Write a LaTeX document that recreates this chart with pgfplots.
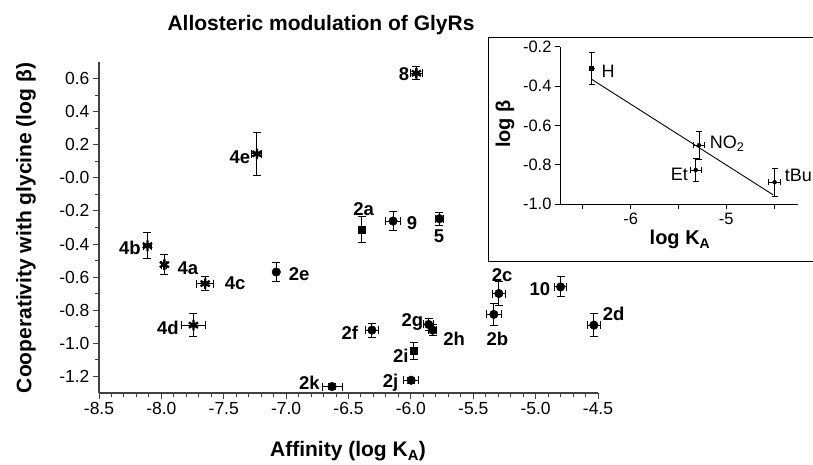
\documentclass[border=0pt]{standalone}
\usepackage{fontspec}
\setmainfont{Liberation Sans}
\usepackage{pgfplots}
\pgfplotsset{compat=1.18}
\pgfplotstableread{
x y ex ey
-6.143 -0.261 0.060 0.060
-5.771 -0.247 0.035 0.040
-7.079 -0.569 0.000 0.060
-6.312 -0.920 0.050 0.042
-5.857 -0.886 0.040 0.035
-5.825 -0.920 0.030 0.035
-5.998 -1.223 0.060 0.018
-6.632 -1.261 0.080 0.018
-5.295 -0.699 0.050 0.070
-5.335 -0.825 0.060 0.065
-4.800 -0.659 0.050 0.060
-4.533 -0.890 0.050 0.068
}\circles
\pgfplotstableread{
x y ex ey
-6.392 -0.311 0.000 0.080
-5.977 -1.046 0.020 0.050
}\squares
\pgfplotstableread{
x y ex ey
-5.956 0.632 0.050 0.040
-7.234 0.145 0.040 0.130
-8.112 -0.410 0.030 0.080
-7.976 -0.524 0.020 0.060
-7.649 -0.639 0.070 0.040
-7.743 -0.890 0.094 0.070
}\stars
\pgfplotstableread{
x y ex ey
-5.286 -0.700 0.060 0.070
-5.320 -0.826 0.060 0.060
-4.495 -0.888 0.060 0.070
}\insetpts
\pgfplotstableread{
x y ex ey
-6.410 -0.310 0.000 0.080
}\insetsq
\begin{document}
\begin{tikzpicture}[x=1pt,y=1pt]
\useasboundingbox (0,0) rectangle (813,465);
\begin{axis}[
  at={(99pt,72pt)}, anchor=south west, scale only axis,
  width=499pt, height=331pt, clip=false,
  xmin=-8.5, xmax=-4.5, ymin=-1.3, ymax=0.7,
  axis lines=left, axis line style={-, line width=1.2pt, black!75},
  xtick={-8.5,-8,-7.5,-7,-6.5,-6,-5.5,-5,-4.5},
  xticklabels={-8.5,-8.0,-7.5,-7.0,-6.5,-6.0,-5.5,-5.0,-4.5},
  ytick={-1.2,-1,-0.8,-0.6,-0.4,-0.2,0,0.2,0.4,0.6},
  yticklabels={-1.2,-1.0,-0.8,-0.6,-0.4,-0.2,-0.0,0.2,0.4,0.6},
  minor x tick num=4, minor y tick num=1,
  tick align=outside, major tick length=6pt, minor tick length=4pt,
  tick style={line width=1pt, black!75},
  ticklabel style={font=\fontsize{17.5}{20}\selectfont},
  error bars/error bar style={line width=1pt, black},
  error bars/error mark options={rotate=90, line width=1pt, mark size=4pt, black},
]
\addplot[only marks, mark=*, mark size=4.3pt, black,
  error bars/.cd, x dir=both, x explicit, y dir=both, y explicit]
  table[x=x, y=y, x error=ex, y error=ey] {\circles};
\addplot[only marks, mark=square*, mark size=3.5pt, black,
  error bars/.cd, x dir=both, x explicit, y dir=both, y explicit]
  table[x=x, y=y, x error=ex, y error=ey] {\squares};
\addplot[only marks, mark=asterisk, mark size=5.3pt, black, line width=2.3pt,
  error bars/.cd, x dir=both, x explicit, y dir=both, y explicit]
  table[x=x, y=y, x error=ex, y error=ey] {\stars};
\begin{scope}[every node/.style={font=\fontsize{18.5}{20}\selectfont\bfseries, inner sep=0pt}]
\node at (axis cs:-6.055,0.626) {8};
\node at (axis cs:-7.370,0.122) {4e};
\node at (axis cs:-6.378,-0.192) {2a};
\node at (axis cs:-5.991,-0.272) {9};
\node at (axis cs:-5.775,-0.352) {5};
\node at (axis cs:-8.252,-0.423) {4b};
\node at (axis cs:-7.788,-0.544) {4a};
\node at (axis cs:-7.408,-0.638) {4c};
\node at (axis cs:-6.895,-0.584) {2e};
\node at (axis cs:-7.947,-0.905) {4d};
\node at (axis cs:-6.489,-0.935) {2f};
\node at (axis cs:-5.987,-0.874) {2g};
\node at (axis cs:-5.653,-0.975) {2h};
\node at (axis cs:-6.081,-1.075) {2i};
\node at (axis cs:-6.162,-1.236) {2j};
\node at (axis cs:-6.814,-1.236) {2k};
\node at (axis cs:-5.268,-0.587) {2c};
\node at (axis cs:-5.307,-0.971) {2b};
\node at (axis cs:-4.965,-0.674) {10};
\node at (axis cs:-4.374,-0.819) {2d};
\end{scope}
\end{axis}
% titles
\node[anchor=base, font=\fontsize{21}{24}\selectfont\bfseries] at (321,434.3) {Allosteric modulation of GlyRs};
\node[rotate=90, font=\fontsize{21}{24}\selectfont\bfseries] at (26,237) {Cooperativity with glycine (log β)};
\node[anchor=base, font=\fontsize{21}{24}\selectfont\bfseries] at (348,8) {Affinity (log K\textsubscript{A})};
% inset
\draw[line width=1pt, fill=white] (488,203.3) rectangle (830,427.3);
\begin{axis}[
  at={(560pt,260.7pt)}, anchor=south west, scale only axis,
  width=238pt, height=157.6pt, clip=false,
  xmin=-6.74, xmax=-4.25, ymin=-1.0, ymax=-0.2,
  axis lines=left, axis line style={-, line width=1pt, black},
  xtick={-6.5,-6,-5.5,-5,-4.5},
  xticklabels={,-6,,-5,},
  ytick={-1,-0.8,-0.6,-0.4,-0.2},
  yticklabels={-1.0,-0.8,-0.6,-0.4,-0.2},
  tick align=outside, major tick length=5pt,
  tick style={line width=1pt, black},
  ticklabel style={font=\fontsize{16.5}{18}\selectfont},
  error bars/error bar style={line width=0.8pt, black},
  error bars/error mark options={rotate=90, line width=0.8pt, mark size=3pt, black},
]
\addplot[black, line width=0.9pt] coordinates {(-6.41,-0.365) (-4.51,-0.952)};
\addplot[only marks, mark=*, mark size=2pt, black,
  error bars/.cd, x dir=both, x explicit, y dir=both, y explicit]
  table[x=x, y=y, x error=ex, y error=ey] {\insetpts};
\addplot[only marks, mark=square*, mark size=2pt, black,
  error bars/.cd, x dir=both, x explicit, y dir=both, y explicit]
  table[x=x, y=y, x error=ex, y error=ey] {\insetsq};
\begin{scope}[every node/.style={font=\fontsize{18}{20}\selectfont, inner sep=0pt}]
\node[anchor=base west] at (axis cs:-6.306,-0.357) {H};
\node[anchor=base west] at (axis cs:-5.175,-0.716) {NO\textsubscript{2}};
\node[anchor=base east] at (axis cs:-5.401,-0.877) {Et};
\node[anchor=base west] at (axis cs:-4.39,-0.885) {tBu};
\end{scope}
\end{axis}
\node[rotate=90, font=\fontsize{20}{22}\selectfont\bfseries] at (505,341) {log β};
\node[anchor=base, font=\fontsize{20}{22}\selectfont\bfseries] at (680,220) {log K\textsubscript{A}};
\end{tikzpicture}
\end{document}
